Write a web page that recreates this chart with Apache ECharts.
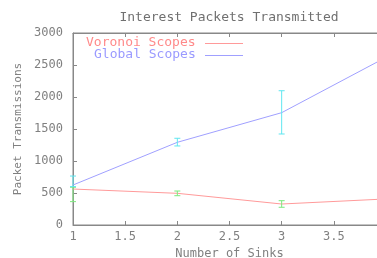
<!DOCTYPE html>
<html>
<head>
<meta charset="utf-8">
<script src="https://cdn.jsdelivr.net/npm/echarts@6/dist/echarts.min.js"></script>
<style>
  html, body { margin: 0; padding: 0; background: #fff; }
  #chart { width: 377px; height: 258px; }
</style>
</head>
<body>
<div id="chart"></div>
<script>
// data
var sinks = [1, 2, 3, 4];
var voronoi = [562, 495, 328, 407];
var globalScopes = [625, 1292, 1755, 2620];
// error bars [x, low, high]
var voronoiErr = [[1, 365, 590], [2, 458, 531], [3, 277, 380]];
var globalErr = [[1, 600, 765], [2, 1235, 1355], [3, 1422, 2098]];
var yTicks = [0, 500, 1000, 1500, 2000, 2500, 3000];

var font = 'DejaVu Sans Mono';
var grey = '#808080';

function pairs(xs, ys) {
  return xs.map(function (x, i) { return [x, ys[i]]; });
}

function errRender(color) {
  return function (params, api) {
    var top = api.coord([api.value(0), api.value(2)]);
    var bot = api.coord([api.value(0), api.value(1)]);
    var w = 3;
    var st = { stroke: color, lineWidth: 1 };
    return {
      type: 'group',
      children: [
        { type: 'line', shape: { x1: top[0], y1: top[1], x2: bot[0], y2: bot[1] }, style: st },
        { type: 'line', shape: { x1: top[0] - w, y1: top[1], x2: top[0] + w, y2: top[1] }, style: st },
        { type: 'line', shape: { x1: bot[0] - w, y1: bot[1], x2: bot[0] + w, y2: bot[1] }, style: st }
      ]
    };
  };
}

var chart = echarts.init(document.getElementById('chart'), null, { renderer: 'canvas' });

var axisLine = { show: true, lineStyle: { color: '#888', width: 1 } };
var axisTick = { show: true, inside: true, length: 4, lineStyle: { color: '#888' } };

var option = {
  backgroundColor: '#fff',
  animation: false,
  title: {
    text: 'Interest Packets Transmitted',
    left: 224,
    top: 6,
    textAlign: 'center',
    textStyle: { fontFamily: font, fontSize: 13, fontWeight: 'normal', color: '#707070' }
  },
  // plot runs past the right edge of the picture (x = 4 is cut off)
  grid: {
    left: 73, top: 33, height: 192, width: 313,
    outerBoundsMode: 'none', containLabel: false,
    show: true, borderColor: '#888', borderWidth: 1
  },
  xAxis: [{
    type: 'value',
    min: 1,
    max: 4,
    interval: 0.5,
    name: 'Number of Sinks',
    nameLocation: 'middle',
    nameGap: 20,
    nameTextStyle: { fontFamily: font, fontSize: 12, color: grey },
    axisLine: axisLine,
    axisTick: axisTick,
    splitLine: { show: false },
    axisLabel: { fontFamily: font, fontSize: 12, color: grey, margin: 6 }
  }, {
    type: 'value',
    position: 'top',
    min: 1,
    max: 4,
    interval: 0.5,
    axisLine: axisLine,
    axisTick: axisTick,
    splitLine: { show: false },
    axisLabel: { show: false }
  }],
  yAxis: {
    type: 'value',
    min: yTicks[0],
    max: yTicks[yTicks.length - 1],
    interval: 500,
    name: 'Packet Transmissions',
    nameLocation: 'middle',
    nameGap: 48,
    nameTextStyle: { fontFamily: font, fontSize: 11, color: grey },
    axisLine: axisLine,
    axisTick: axisTick,
    splitLine: { show: false },
    axisLabel: { fontFamily: font, fontSize: 12, color: grey, margin: 10, formatter: function (v) { return String(v); } }
  },
  graphic: [
    { type: 'text', left: 86, top: 36, style: { text: 'Voronoi Scopes', fill: '#ff8a8a', font: '13px ' + font } },
    { type: 'rect', shape: { x: 205, y: 43, width: 38, height: 1 }, style: { fill: '#ff9a9a' } },
    { type: 'text', left: 94, top: 48, style: { text: 'Global Scopes', fill: '#9a9aff', font: '13px ' + font } },
    { type: 'rect', shape: { x: 205, y: 55, width: 38, height: 1 }, style: { fill: '#a0a0ff' } }
  ],
  series: [{
    name: 'Voronoi Scopes',
    type: 'line',
    data: pairs(sinks, voronoi),
    symbol: 'none',
    lineStyle: { color: '#ff9a9a', width: 1 },
    z: 3
  }, {
    name: 'Global Scopes',
    type: 'line',
    data: pairs(sinks, globalScopes),
    symbol: 'none',
    lineStyle: { color: '#a0a0ff', width: 1 },
    z: 3
  }, {
    type: 'custom',
    data: voronoiErr,
    renderItem: errRender('#7de87d'),
    z: 4
  }, {
    type: 'custom',
    data: globalErr,
    renderItem: errRender('#5fe6f0'),
    z: 4
  }]
};

chart.setOption(option);
</script>
</body>
</html>
